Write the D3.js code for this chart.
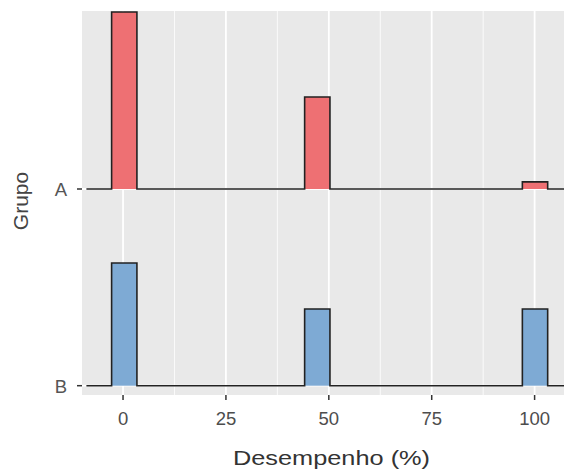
<!DOCTYPE html>
<html>
<head>
<meta charset="utf-8">
<script src="https://cdn.jsdelivr.net/npm/d3@7"></script>
<style>
  html, body { margin: 0; padding: 0; background: #fff; }
  svg { display: block; font-family: "Liberation Sans", Arial, sans-serif; }
</style>
</head>
<body>
<svg id="chart" width="564" height="470"></svg>
<script>
// ---- data ----
const groups = ["A", "B"];
const binCenters = [0.3, 47.2, 100.1];   // Desempenho (%) bins with data
const binWidth = 6.15;
const countsA = [25, 13, 1];
const countsB = [8, 5, 5];
const xTicks = [0, 25, 50, 75, 100];
const xMinor = [12.5, 37.5, 62.5, 87.5];
const lineRange = [-8.9, 115];
const xTitle = "Desempenho (%)";
const yTitle = "Grupo";
const fills = { A: "#EE7073", B: "#7EAAD4" };

// ---- layout ----
const svg = d3.select("#chart");
const panel = { left: 82, top: 11, right: 570, bottom: 395 };

const x = d3.scaleLinear().domain([-9.97, 108.6]).range([panel.left, panel.right]);
const y = d3.scalePoint().domain(groups).range([189, 385.7]);
const spacing = y("B") - y("A");

// densities per group (count / (n * binwidth))
const series = groups.map(g => {
  const c = g === "A" ? countsA : countsB;
  const n = d3.sum(c);
  return { group: g, bins: binCenters.map((m, i) => ({ x0: m - binWidth / 2, x1: m + binWidth / 2, d: c[i] / (n * binWidth) })) };
});
const maxD = d3.max(series, s => d3.max(s.bins, b => b.d));
const h = d3.scaleLinear().domain([0, maxD]).range([0, 0.9 * spacing]);

// panel background
svg.append("rect")
  .attr("x", panel.left).attr("y", panel.top)
  .attr("width", panel.right - panel.left).attr("height", panel.bottom - panel.top)
  .attr("fill", "#E9E9E9");

svg.append("clipPath").attr("id", "clip").append("rect")
  .attr("x", panel.left).attr("y", panel.top)
  .attr("width", panel.right - panel.left).attr("height", panel.bottom - panel.top);

const g = svg.append("g").attr("clip-path", "url(#clip)");

// grid
g.selectAll(".minor").data(xMinor).join("line")
  .attr("x1", d => x(d)).attr("x2", d => x(d))
  .attr("y1", panel.top).attr("y2", panel.bottom)
  .attr("stroke", "#fff").attr("stroke-width", 0.8);
g.selectAll(".major").data(xTicks).join("line")
  .attr("x1", d => x(d)).attr("x2", d => x(d))
  .attr("y1", panel.top).attr("y2", panel.bottom)
  .attr("stroke", "#fff").attr("stroke-width", 1.8);
g.selectAll(".hmajor").data(groups).join("line")
  .attr("x1", panel.left).attr("x2", panel.right)
  .attr("y1", d => y(d)).attr("y2", d => y(d))
  .attr("stroke", "#fff").attr("stroke-width", 1.8);

// ridges (binline)
const line = d3.line().x(p => x(p[0])).y(p => p[1]);
series.forEach(s => {
  const base = y(s.group);
  g.selectAll(null).data(s.bins).join("rect")
    .attr("x", b => x(b.x0)).attr("width", b => x(b.x1) - x(b.x0))
    .attr("y", b => base - h(b.d)).attr("height", b => h(b.d))
    .attr("fill", fills[s.group]);
  const pts = [[lineRange[0], base]];
  s.bins.forEach(b => {
    pts.push([b.x0, base], [b.x0, base - h(b.d)], [b.x1, base - h(b.d)], [b.x1, base]);
  });
  pts.push([lineRange[1], base]);
  g.append("path").attr("d", line(pts))
    .attr("fill", "none").attr("stroke", "#222").attr("stroke-width", 1.6)
    .attr("stroke-linejoin", "miter");
});

// x axis
const xAxis = svg.append("g");
xAxis.selectAll("line").data(xTicks).join("line")
  .attr("x1", d => x(d)).attr("x2", d => x(d))
  .attr("y1", panel.bottom).attr("y2", panel.bottom + 5)
  .attr("stroke", "#333").attr("stroke-width", 1.5);
xAxis.selectAll("text").data(xTicks).join("text")
  .attr("x", d => x(d)).attr("y", 425)
  .attr("text-anchor", "middle").attr("font-size", 18.5).attr("fill", "#4D4D4D")
  .text(d => d);

// y axis
const yAxis = svg.append("g");
yAxis.selectAll("line").data(groups).join("line")
  .attr("x1", panel.left - 5).attr("x2", panel.left)
  .attr("y1", d => y(d)).attr("y2", d => y(d))
  .attr("stroke", "#333").attr("stroke-width", 1.5);
yAxis.selectAll("text").data(groups).join("text")
  .attr("x", 67).attr("y", d => y(d) + 6.8)
  .attr("text-anchor", "end").attr("font-size", 18.5).attr("fill", "#555")
  .text(d => d);

// titles
svg.append("text")
  .attr("x", 331.5).attr("y", 465)
  .attr("text-anchor", "middle").attr("font-size", 21).attr("fill", "#333")
  .attr("textLength", 197).attr("lengthAdjust", "spacingAndGlyphs")
  .text(xTitle);
svg.append("text")
  .attr("transform", "translate(28,201) rotate(-90)")
  .attr("text-anchor", "middle").attr("font-size", 21).attr("fill", "#444")
  .text(yTitle);
</script>
</body>
</html>
